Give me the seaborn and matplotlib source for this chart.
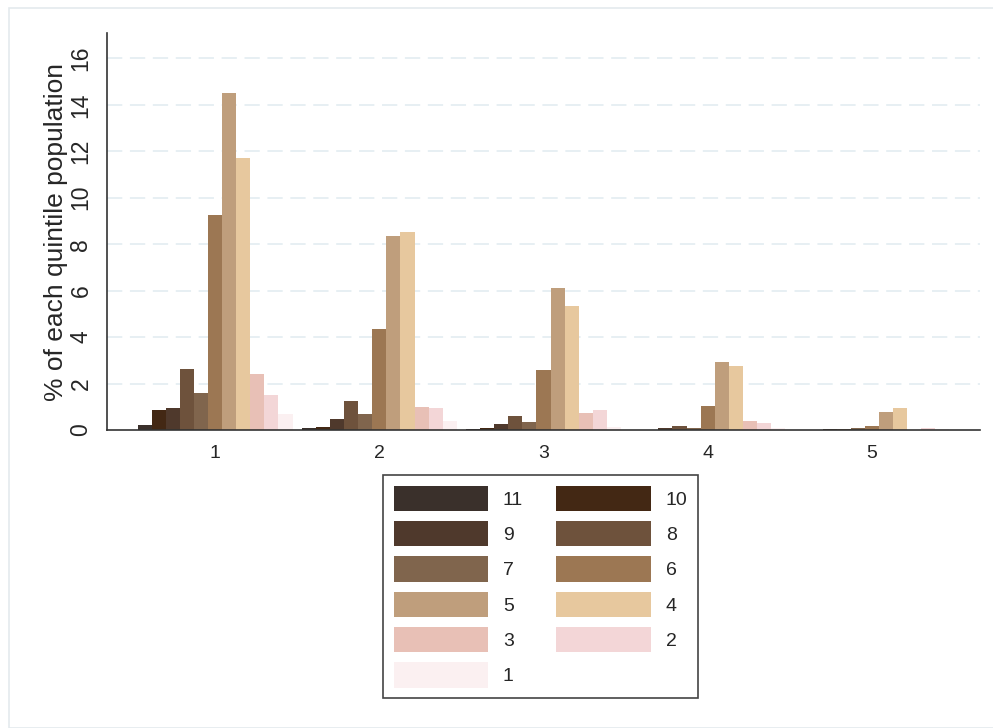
import numpy as np
import pandas as pd
import matplotlib
matplotlib.use('Agg')
import matplotlib.pyplot as plt
from matplotlib.patches import Rectangle
import seaborn as sns

# Data ======================================================================
quintiles = ['1', '2', '3', '4', '5']
tones = ['11', '10', '9', '8', '7', '6', '5', '4', '3', '2', '1']

# % of each quintile population, by tone (11 -> 1)
q1 = [0.23, 0.86, 0.96, 2.63, 1.59, 9.24, 14.52, 11.73, 2.42, 1.52, 0.70]
q2 = [0.10, 0.12, 0.47, 1.24, 0.70, 4.36, 8.34, 8.53, 1.00, 0.94, 0.40]
q3 = [0.03, 0.10, 0.24, 0.61, 0.36, 2.59, 6.10, 5.33, 0.73, 0.87, 0.12]
q4 = [0.00, 0.00, 0.07, 0.16, 0.10, 1.03, 2.92, 2.75, 0.37, 0.29, 0.10]
q5 = [0.00, 0.00, 0.03, 0.05, 0.08, 0.16, 0.77, 0.96, 0.02, 0.10, 0.03]

tone_colors = ['#3a302b', '#432814', '#4f392c', '#6e523c', '#80654d', '#9c7753',
               '#bf9e7c', '#e7c89e', '#e8c0b6', '#f3d6d7', '#fbf0f1']

rows = []
for q, vals in zip(quintiles, [q1, q2, q3, q4, q5]):
    for t, v in zip(tones, vals):
        rows.append({'quintile': q, 'tone': t, 'value': v})
df = pd.DataFrame(rows)

# Plot ======================================================================
sns.set_style('white')
plt.rcParams['font.family'] = ['Liberation Sans', 'DejaVu Sans']

fig = plt.figure(figsize=(9.93, 7.28), dpi=100)
ax = fig.add_axes([107/993, 1-430/728, (980-107)/993, (430-33.3)/728])

# light outer frame
fig.patches.append(Rectangle((9/993, 0), 1.0, 1-8/728, transform=fig.transFigure,
                             fill=False, edgecolor='#e4eaed', linewidth=1.2))

for y in range(2, 17, 2):
    ax.axhline(y, color='#e0ebf0', linewidth=1.1, dashes=(10, 5), zorder=0)

sns.barplot(data=df, x='quintile', y='value', hue='tone', order=quintiles,
            hue_order=tones, palette=tone_colors, width=0.944, gap=0,
            saturation=1, errorbar=None, linewidth=0, ax=ax, zorder=2)

ax.set_xlim(-0.658, 4.658)
ax.set_ylim(0, 17.08)
ax.set_yticks(range(0, 17, 2))
ax.tick_params(axis='y', length=9, width=1, color='#333333', labelsize=16.5,
               pad=1.5, labelrotation=90)
for lab in ax.get_yticklabels():
    lab.set_va('center')
ax.tick_params(axis='x', length=0, labelsize=14, pad=11)
ax.set_xlabel('')
ax.set_ylabel('% of each quintile population', fontsize=19)
ax.yaxis.set_label_coords(-0.045, 0.5)

for s in ['top', 'right']:
    ax.spines[s].set_visible(False)
for s in ['left', 'bottom']:
    ax.spines[s].set_color('#333333')
    ax.spines[s].set_linewidth(1.2)

# legend: two columns, row-major order 11,10 / 9,8 / ...
handles, labels = ax.get_legend_handles_labels()
ax.get_legend().remove()
order = [0, 2, 4, 6, 8, 10, 1, 3, 5, 7, 9]
leg = fig.legend([handles[i] for i in order], [labels[i] for i in order],
                 ncol=2, loc='upper center', bbox_to_anchor=(540.5/993, 1-475/728),
                 borderaxespad=0, fontsize=14, handlelength=4.88, handleheight=1.62,
                 labelspacing=0.52, handletextpad=0.75, columnspacing=1.7,
                 borderpad=0.55, fancybox=False, framealpha=1, edgecolor='#444444')
leg.get_frame().set_linewidth(1.2)

fig.savefig('out.png', dpi=100)
